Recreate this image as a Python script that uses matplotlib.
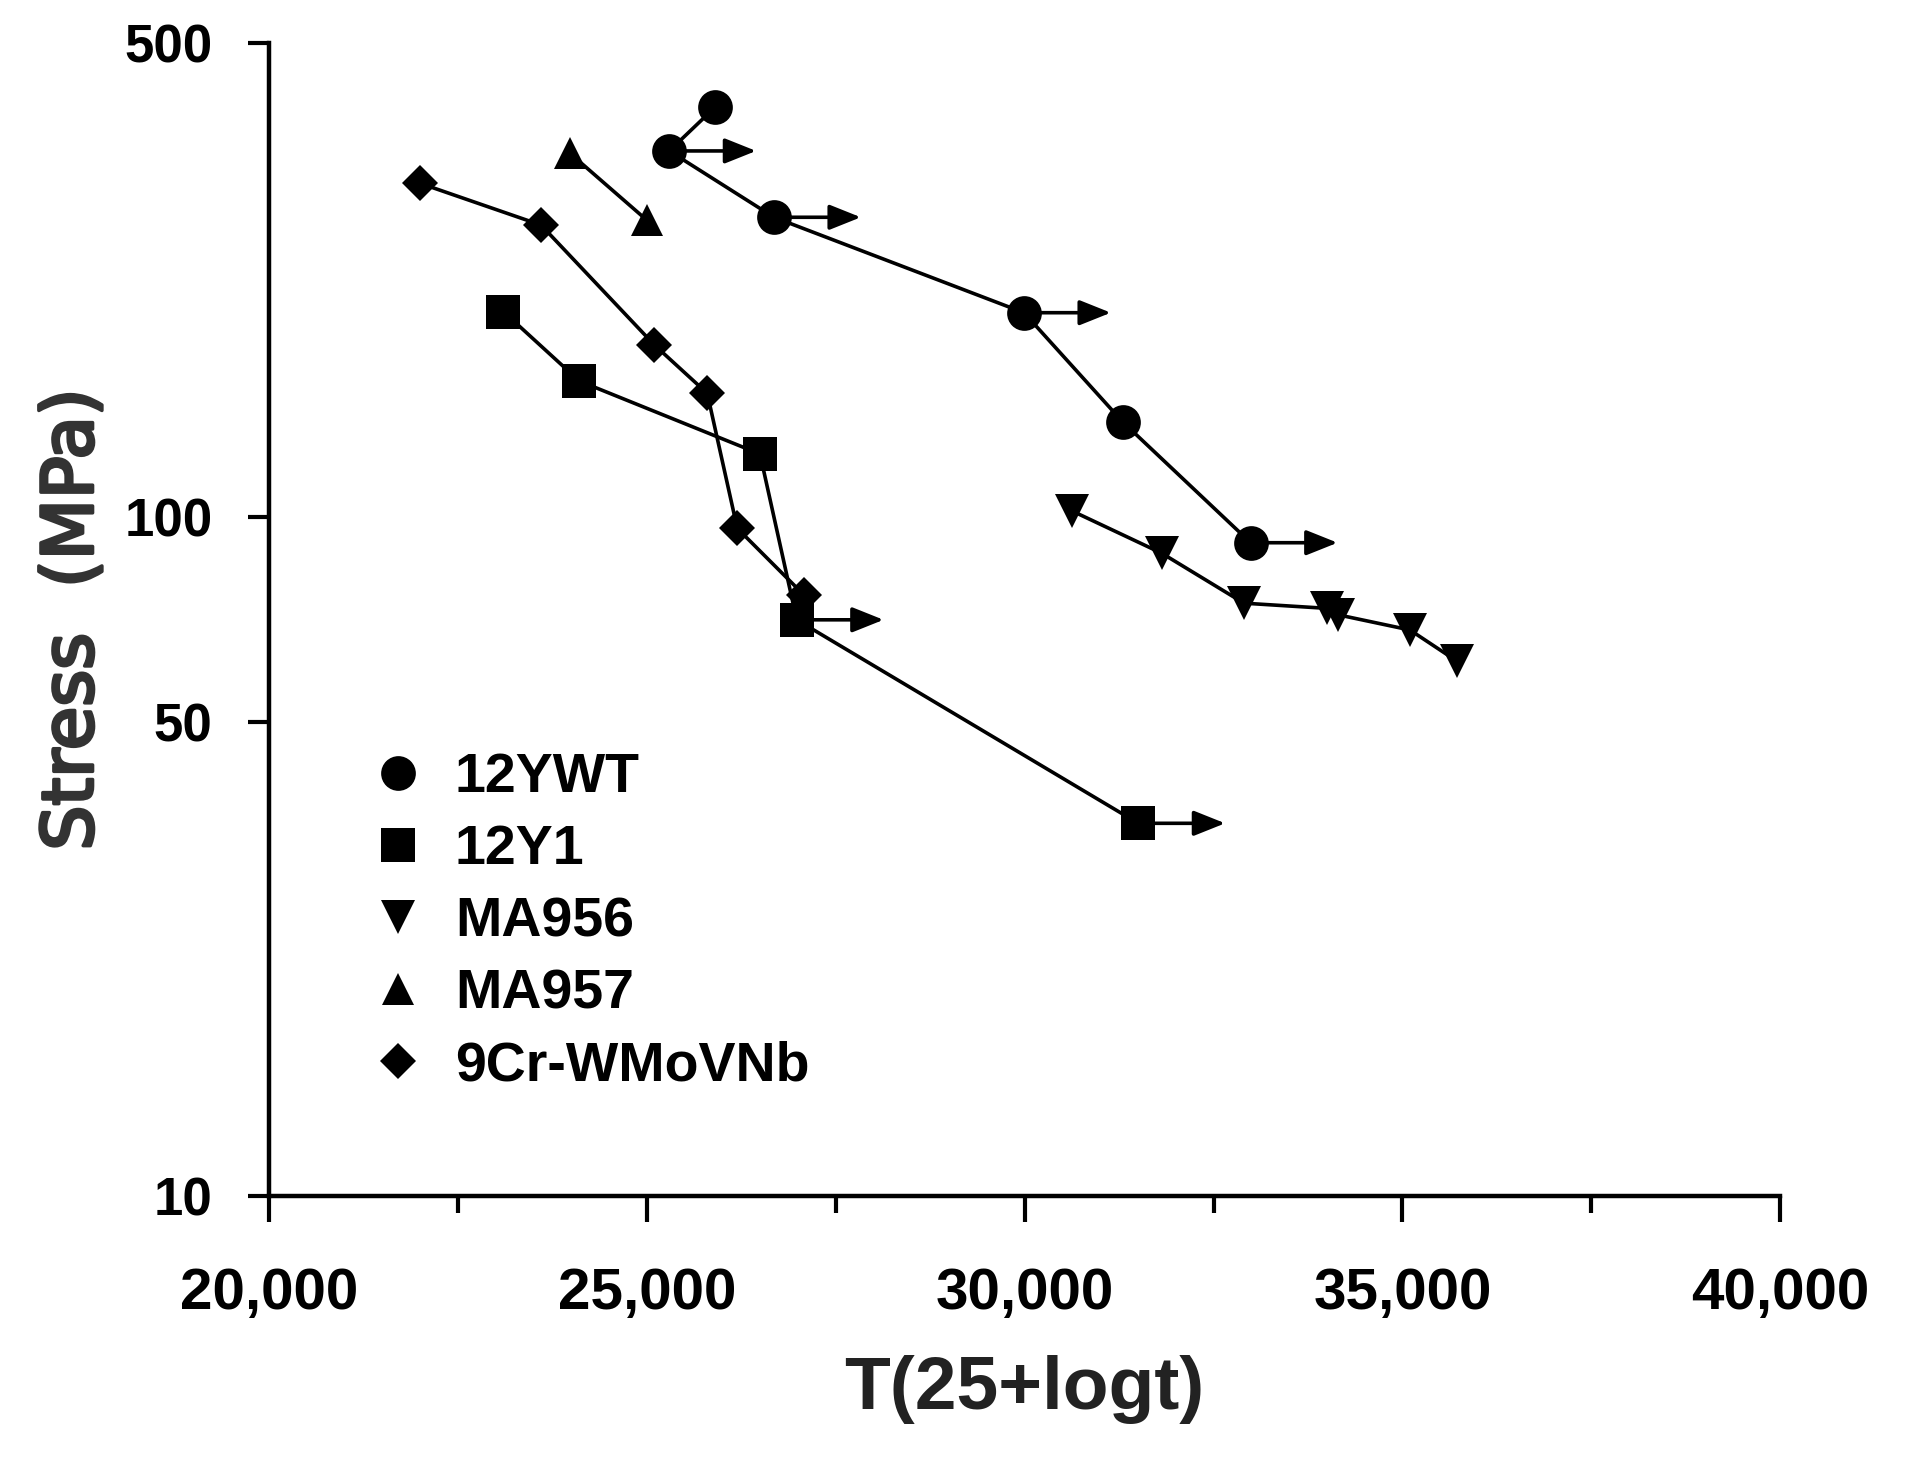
import numpy as np
import matplotlib
matplotlib.use("Agg")
import matplotlib.pyplot as plt
import matplotlib.patheffects as pe
from matplotlib.lines import Line2D

# larson-miller parameter vs stress
ywt_x = [25900, 25295, 26681, 29991, 31297, 32992]
ywt_y = [401.7, 346.4, 276.6, 200.1, 138.2, 91.7]
ywt_runout = [1, 2, 3, 5]

y1_x = [23098, 24104, 26496, 26982, 31504]
y1_y = [200.9, 158.7, 123.9, 70.6, 35.4]
y1_runout = [3, 4]

ma956_x = [30622, 31814, 32903, 33998, 34152, 35101, 35719]
ma956_y = [102.2, 88.5, 74.7, 73.4, 71.8, 68.2, 61.4]

ma957_x = [23981, 24996]
ma957_y = [343.6, 274.0]

cr9_x = [21995, 23597, 25097, 25798, 26195, 27078]
cr9_y = [310.4, 269.4, 179.4, 152.2, 96.3, 76.8]

labels = ["12YWT", "12Y1", "MA956", "MA957", "9Cr-WMoVNb"]
markers = ["o", "s", "v", "^", "D"]
sizes = [25, 24, 24, 23, 18]

xticks = [20000, 25000, 30000, 35000, 40000]
xticklabels = ["20,000", "25,000", "30,000", "35,000", "40,000"]
yticks = [10, 50, 100, 500]
yticklabels = ["10", "50", "100", "500"]

arrow_len = 1150

fig = plt.figure(figsize=(19.06, 14.59), dpi=100)
ax = fig.add_axes([0.1413, 0.1803, 0.7926, 0.7904])

series = [(ywt_x, ywt_y), (y1_x, y1_y), (ma956_x, ma956_y),
          (ma957_x, ma957_y), (cr9_x, cr9_y)]
for (xs, ys), m, ms in zip(series, markers, sizes):
    ax.plot(xs, ys, color="black", lw=2.6, marker=m, ms=ms,
            markeredgewidth=0, zorder=3)

# run-out arrows
for xs, ys, idx in [(ywt_x, ywt_y, ywt_runout), (y1_x, y1_y, y1_runout)]:
    for i in idx:
        ax.annotate("", xy=(xs[i] + arrow_len, ys[i]), xytext=(xs[i], ys[i]),
                    arrowprops=dict(arrowstyle="-|>,head_length=0.55,head_width=0.22",
                                    color="black", lw=2.6, mutation_scale=35,
                                    shrinkA=0, shrinkB=0),
                    zorder=2)

ax.set_yscale("log")
ax.set_xlim(20000, 40000)
ax.set_ylim(10, 500)
ax.set_yticks(yticks)
ax.set_yticklabels(yticklabels)
ax.yaxis.set_minor_locator(matplotlib.ticker.NullLocator())
ax.set_xticks(xticks)
ax.set_xticklabels(xticklabels)
ax.set_xticks([22500, 27500, 32500, 37500], minor=True)

for s in ["top", "right"]:
    ax.spines[s].set_visible(False)
for s in ["left", "bottom"]:
    ax.spines[s].set_linewidth(3.2)

ax.tick_params(axis="y", which="major", length=15, width=3, pad=26)
ax.tick_params(axis="x", which="major", length=19, width=3, pad=32)
ax.tick_params(axis="x", which="minor", length=12, width=3)

for lab in ax.get_xticklabels():
    lab.set_fontfamily("Liberation Sans")
    lab.set_fontweight("bold")
    lab.set_fontsize(42)
for lab in ax.get_yticklabels():
    lab.set_fontfamily("Liberation Sans")
    lab.set_fontweight("bold")
    lab.set_fontsize(38)

ax.set_xlabel("T(25+logt)", fontsize=54, fontweight="bold",
              family="Liberation Sans", color="#222222", labelpad=25)
ylab = ax.set_ylabel("Stress  (MPa)", fontsize=51,
                     family="DejaVu Sans", color="#333333", labelpad=12)
ylab.set_path_effects([pe.withStroke(linewidth=2.5, foreground="#333333")])

handles = [Line2D([], [], ls="none", marker=m, ms=ms, color="black",
                  markeredgewidth=0) for m, ms in zip(markers, sizes)]
ax.legend(handles, labels, loc="upper left", frameon=False,
          bbox_to_anchor=(0.1941, 0.4843), bbox_transform=fig.transFigure,
          borderaxespad=0, borderpad=0, handlelength=1.0, handletextpad=0.53,
          labelspacing=0.36,
          prop={"family": "Liberation Sans", "weight": "bold", "size": 40})

fig.savefig("out.png", dpi=100)
